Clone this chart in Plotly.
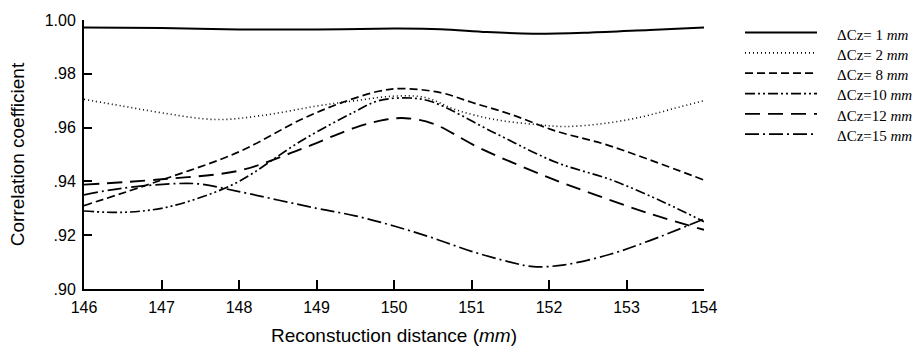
import plotly.graph_objects as go

# ---- data ----
labels = ["ΔCz= 1 <i>mm</i>", "ΔCz= 2 <i>mm</i>", "ΔCz= 8 <i>mm</i>",
          "ΔCz=10 <i>mm</i>", "ΔCz=12 <i>mm</i>", "ΔCz=15 <i>mm</i>"]

x_cz1 = [146, 147, 148, 149, 150, 150.6, 151.2, 151.8, 152.5, 153.3, 154]
y_cz1 = [0.9972, 0.9970, 0.9965, 0.9965, 0.9968, 0.9966, 0.9955, 0.9949, 0.9953, 0.9963, 0.9972]

x_cz2 = [146, 146.5, 147, 147.7, 148.3, 149, 149.5, 150, 150.4, 150.8, 151.3, 151.85, 152.2, 152.7, 153.2, 153.6, 154]
y_cz2 = [0.9705, 0.968, 0.9655, 0.963, 0.9645, 0.968, 0.970, 0.9717, 0.9712, 0.9666, 0.963, 0.9611, 0.9604, 0.9615, 0.964, 0.967, 0.970]

x_cz8 = [146, 147, 148, 148.8, 149.3, 149.8, 150.1, 150.6, 151, 151.5, 152.1, 152.7, 153.3, 154]
y_cz8 = [0.931, 0.9405, 0.951, 0.963, 0.969, 0.9735, 0.9745, 0.973, 0.9694, 0.965, 0.9586, 0.954, 0.948, 0.9405]

x_cz10 = [146, 146.5, 147, 147.5, 148, 148.8, 149.5, 149.8, 150.2, 150.5, 151.3, 152.1, 152.8, 153.5, 154]
y_cz10 = [0.929, 0.9285, 0.930, 0.934, 0.940, 0.955, 0.966, 0.970, 0.971, 0.9695, 0.958, 0.947, 0.9406, 0.932, 0.925]

x_cz12 = [146, 147, 148, 148.8, 149.5, 149.9, 150.15, 150.5, 151.1, 152, 152.6, 153.3, 154]
y_cz12 = [0.9388, 0.9408, 0.944, 0.952, 0.960, 0.963, 0.9635, 0.9615, 0.9525, 0.9414, 0.935, 0.928, 0.922]

x_cz15 = [146, 146.5, 147.2, 147.5, 148, 149, 149.5, 150, 150.5, 151, 151.5, 151.8, 152.2, 152.8, 153.3, 154]
y_cz15 = [0.935, 0.9375, 0.9392, 0.939, 0.9362, 0.930, 0.9272, 0.9234, 0.919, 0.914, 0.910, 0.9083, 0.909, 0.913, 0.918, 0.926]

x_ticks = [146, 147, 148, 149, 150, 151, 152, 153, 154]
y_ticks = [0.90, 0.92, 0.94, 0.96, 0.98, 1.00]
y_ticktext = [".90", ".92", ".94", ".96", ".98", "1.00"]

series = [(x_cz1, y_cz1), (x_cz2, y_cz2), (x_cz8, y_cz8),
          (x_cz10, y_cz10), (x_cz12, y_cz12), (x_cz15, y_cz15)]
dashes = ["solid", "1px,3px", "8px,4px", "10px,3px,2px,3px,2px,3px", "15px,8px", "14px,4px,2px,4px"]
widths = [2, 1.6, 1.7, 1.7, 1.9, 1.7]

fig = go.Figure()
for (xs, ys), d, w, name in zip(series, dashes, widths, labels):
    fig.add_trace(go.Scatter(x=xs, y=ys, mode="lines", name=name,
                             line=dict(color="black", width=w, dash=d, shape="spline", smoothing=1.0),
                             showlegend=False))

# manual legend (long line samples like the reference)
shapes = []
annotations = []
plot_w = 620.0
plot_h = 278.0
for i, (d, w, name) in enumerate(zip(dashes, widths, labels)):
    py = 28 + 21 * i
    yp = (293 - py) / plot_h
    shapes.append(dict(type="line", xref="paper", yref="paper",
                       x0=(745 - 84) / plot_w, x1=(817 - 84) / plot_w, y0=yp, y1=yp,
                       line=dict(color="black", width=w, dash=d)))
    annotations.append(dict(xref="paper", yref="paper", x=(835 - 84) / plot_w, y=(293 - py - 2) / plot_h,
                            xanchor="left", yanchor="middle", showarrow=False, text=name,
                            font=dict(family="Liberation Serif", size=15, color="black")))

fig.update_layout(
    width=917, height=355, autosize=False,
    margin=dict(l=84, r=213, t=15, b=62),
    paper_bgcolor="white", plot_bgcolor="white",
    font=dict(family="Liberation Sans, Arial", size=16, color="black"),
    shapes=shapes, annotations=annotations,
    showlegend=False,
)
fig.update_xaxes(range=[146, 154], tickvals=x_ticks, ticks="inside", ticklen=9, tickwidth=1.5,
                 tickcolor="black", showline=True, linecolor="black", linewidth=2,
                 showgrid=False, zeroline=False, ticklabelstandoff=3,
                 title=dict(text="Reconstuction distance (<i>mm</i>)", font=dict(size=19), standoff=13))
fig.update_yaxes(range=[0.90, 1.00], tickvals=y_ticks, ticktext=y_ticktext, ticks="inside", ticklen=8,
                 tickwidth=1.5, tickcolor="black", showline=True, linecolor="black", linewidth=2,
                 showgrid=False, zeroline=False, ticklabelstandoff=3,
                 title=dict(text="Correlation coefficient", font=dict(size=19), standoff=15))

fig.write_html("out.html")
